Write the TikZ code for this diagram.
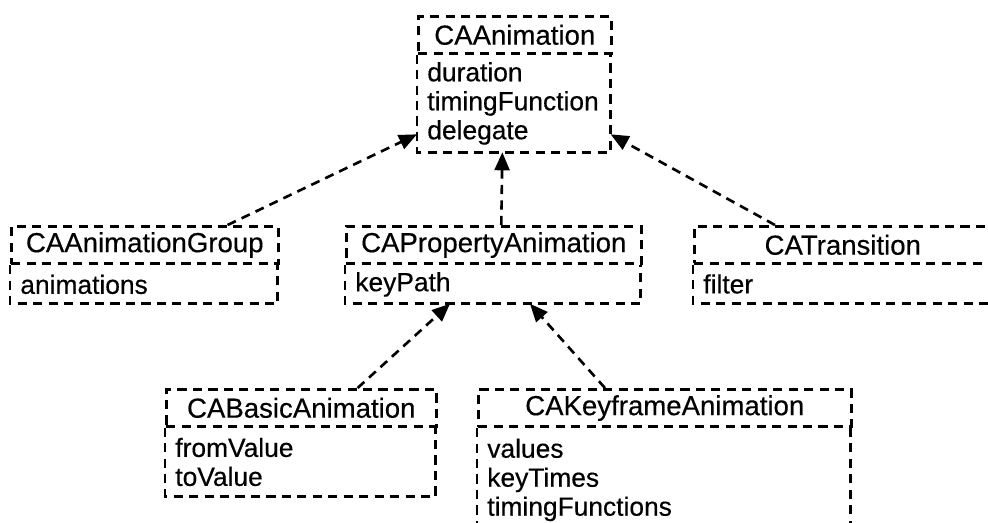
\documentclass[tikz,border=0pt]{standalone}
\usepackage{fontspec}
\setmainfont{Liberation Sans}[FakeBold=0.4]
\usetikzlibrary{positioning, arrows.meta, calc}

\begin{document}
\begin{tikzpicture}[x=0.02cm, y=-0.02cm,
    boxline/.style={draw=black, line width=1.5pt, dash pattern=on 5.2pt off 3.6pt},
    ttl/.style={boxline, anchor=north west, inner xsep=0.2cm, minimum height=0.74cm, font=\fontsize{15.7}{18}\selectfont},
    att/.style={anchor=north west, inner xsep=0.2cm, align=left, font=\fontsize{15}{16.5}\selectfont},
    inh/.style={-{Triangle[length=0.36cm, width=0.3cm]}, line width=1.5pt, dash pattern=on 5.2pt off 3.6pt}]
  \useasboundingbox (0,0) rectangle (988,522);
  % classes
  \node[ttl, minimum width=3.86cm] (anim) at (417,15) {CAAnimation};
  \node[att, text width=3.46cm, minimum height=1.94cm] (animattr) at (anim.south west) {duration\\timingFunction\\delegate};
  \node[ttl, minimum width=5.34cm] (grp) at (10,225) {CAAnimationGroup};
  \node[att, text width=4.94cm, minimum height=0.76cm] (grpattr) at (grp.south west) {animations};
  \node[ttl, minimum width=5.9cm] (prop) at (345,225) {CAPropertyAnimation};
  \node[att, text width=5.5cm, minimum height=0.76cm] (propattr) at (prop.south west) {keyPath};
  \node[ttl, minimum width=5.94cm] (trans) at (693,225) {CATransition};
  \node[att, text width=5.54cm, minimum height=0.76cm] (transattr) at (trans.south west) {filter};
  \node[ttl, minimum width=5.4cm] (basic) at (165,388) {CABasicAnimation};
  \node[att, text width=5cm, minimum height=1.36cm] (basicattr) at (basic.south west) {fromValue\\toValue};
  \node[ttl, minimum width=7.46cm] (key) at (477,388) {CAKeyframeAnimation};
  \node[att, text width=7.06cm, minimum height=2.06cm] (keyattr) at (key.south west) {values\\keyTimes\\timingFunctions};
  % attribute compartments, open at the top
  \foreach \c in {animattr, grpattr, propattr, transattr, basicattr, keyattr}
    \draw[boxline] (\c.north west) |- (\c.south east) -- (\c.north east);
  % inheritance
  \draw[inh] ([xshift=-1.04cm]grp.north east) -- ([yshift=0.36cm]animattr.south west);
  \draw[inh] ([xshift=0.15cm]prop.north) -- ([xshift=-0.23cm]animattr.south);
  \draw[inh] ([xshift=1.64cm]trans.north west) -- ([yshift=0.36cm]animattr.south east);
  \draw[inh] ([xshift=-1.6cm]basic.north east) -- ([xshift=2.1cm]propattr.south west);
  \draw[inh] ([xshift=2.56cm]key.north west) -- ([xshift=3.7cm]propattr.south west);
\end{tikzpicture}
\end{document}
